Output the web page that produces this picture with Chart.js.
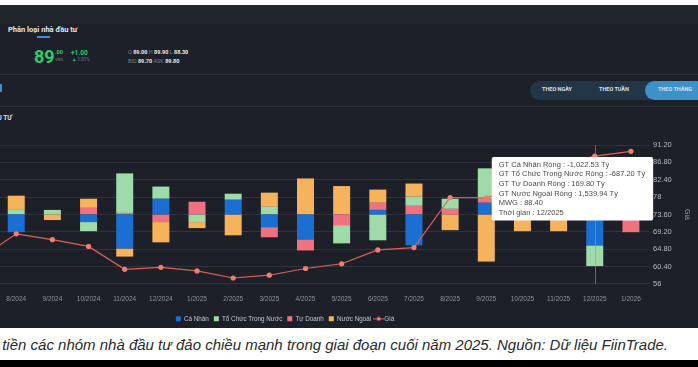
<!DOCTYPE html>
<html lang="vi">
<head>
<meta charset="utf-8">
<title>Phân loại nhà đầu tư</title>
<script src="https://cdn.jsdelivr.net/npm/chart.js@4.4.1/dist/chart.umd.min.js"></script>
<style>
html, body { margin: 0; padding: 0; }
body { position: relative; width: 698px; height: 367px; overflow: hidden; background: #000; font-family: Roboto, "Liberation Sans", sans-serif; }
.abs { position: absolute; white-space: nowrap; line-height: 1; }
.strip { left: 0; top: 0; width: 698px; height: 5px; background: #fff; }
.panel { left: 0; top: 5px; width: 698px; height: 323px; background: #1d2028; }
.band { left: 0; top: 5px; width: 698px; height: 19px; background: #22252c; }
.sep { left: 0; width: 698px; height: 1px; background: #2c3038; }
.tab { left: 8px; top: 26px; font-size: 7.5px; font-weight: 700; color: #e4e6ea; }
.tabline { left: 37px; top: 36px; width: 13px; height: 2px; background: #3d8fd6; }
.green { color: #2dcc70; }
.grey { color: #7c828b; }
.val { color: #e8eaee; font-weight: 700; }
.pills { left: 530px; top: 81px; width: 190px; height: 19px; border-radius: 10px; background: #233647; }
.pill-on { left: 645px; top: 81px; width: 70px; height: 19px; border-radius: 10px; background: #3c92c7; }
.btn { top: 87px; font-size: 5.5px; font-weight: 700; color: #d9e1ea; }
.chartbox { position: absolute; left: -128px; top: 110px; width: 826px; height: 222px; }
.caption { position: absolute; left: 0; top: 328px; width: 698px; height: 32px; background: #fff; z-index: 2; overflow: hidden; }
.caption span { position: absolute; right: 30px; top: 8px; white-space: nowrap; font-family: "Liberation Sans", Arial, sans-serif; font-style: italic; font-size: 15px; color: #2a2a2a; }
</style>
</head>
<body>
<div class="abs strip"></div>
<div class="abs panel"></div>
<div class="abs band"></div>
<div class="abs tab">Phân loại nhà đầu tư</div>
<div class="abs tabline"></div>
<div class="abs green" style="left:34px;top:48px;font-size:18px;font-weight:700;">89</div>
<div class="abs green" style="left:55px;top:50px;font-size:5.5px;font-weight:700;">.00</div>
<div class="abs grey" style="left:55px;top:58px;font-size:4px;">VND</div>
<div class="abs green" style="left:71px;top:50px;font-size:6.5px;font-weight:700;">+1.00</div>
<div class="abs" style="left:72px;top:58px;font-size:4.5px;"><span class="green">▲</span> <span class="grey">1.01%</span></div>
<div class="abs" style="left:128px;top:50px;font-size:5.5px;"><span class="grey">O</span> <span class="val">89.00</span> <span class="grey">H</span> <span class="val">89.90</span> <span class="grey">L</span> <span class="val">88.30</span></div>
<div class="abs" style="left:128px;top:59px;font-size:5.5px;"><span class="grey">BID</span> <span class="val">89.70</span> <span class="grey">ASK</span> <span class="val">89.80</span></div>
<div class="abs sep" style="top:74px;"></div>
<div class="abs" style="left:0;top:84px;width:2px;height:8px;background:#3d8fd6;"></div>
<div class="abs pills"></div>
<div class="abs pill-on"></div>
<div class="abs btn" style="left:542px;">THEO NGÀY</div>
<div class="abs btn" style="left:599px;">THEO TUẦN</div>
<div class="abs btn" style="left:658px;">THEO THÁNG</div>
<div class="abs sep" style="top:106px;"></div>
<div class="abs" style="right:686px;top:115px;font-size:6.5px;font-weight:700;color:#dfe2e7;">NHÀ ĐẦU TƯ</div>
<div class="chartbox"><canvas id="flowChart"></canvas></div>
<div class="caption"><span>Dòng tiền các nhóm nhà đầu tư đảo chiều mạnh trong giai đoạn cuối năm 2025. Nguồn: Dữ liệu FiinTrade.</span></div>
<script>
const months = ['7/2024', '8/2024', '9/2024', '10/2024', '11/2024', '12/2024', '1/2025', '2/2025', '3/2025', '4/2025', '5/2025', '6/2025', '7/2025', '8/2025', '9/2025', '10/2025', '11/2025', '12/2025', '1/2026']
// giá trị ròng, tỷ đồng
const caNhan = [null, -588, 0, -252, -1125, 520, 0, 487, -420, -823, 0, 151, -1024, 0, 386, 250, 400, -1022.53, 300]
const tuDoanh = [null, 0, 0, 218, 50, -252, 420, 0, -336, -370, -353, 235, 285, 185, 134, 0, 0, 169.8, -588]
const toChuc = [null, 151, 150, -302, 1310, 403, -252, 200, 252, 0, -605, -856, 302, 336, 1007, 300, 150, -687.2, 200]
const nuocNgoai = [null, 470, -185, 302, -270, -672, -200, -690, 470, 1192, 940, 437, 437, -520, -1561, -554, -554, 1539.94, 0]
const giaMWG = [62.5, 68.7, 67.2, 65.5, 59.7, 60.2, 59.3, 57.5, 58.2, 59.9, 61.1, 64.6, 65.2, 77.9, 77.8, 80.5, 86.0, 88.4, 89.6]
const giaTicks = [56, 60.4, 64.8, 69.2, 73.6, 78, 82.4, 86.8, 91.2]
const legendOrder = ['Cá Nhân', 'Tổ Chức Trong Nước', 'Tự Doanh', 'Nước Ngoài', 'Giá']
const activeMonth = '12/2025'

const fmt = (v) => Number(v).toLocaleString('en-US', { minimumFractionDigits: 2, maximumFractionDigits: 2 })
const fmtTick = (v) => {
	const s = Number(v).toFixed(2)
	return s.endsWith('.00') ? s.slice(0, -3) : s
}

// marker "—●—" cho mục Giá trong chú thích
const giaMarker = document.createElement('canvas')
giaMarker.width = 11
giaMarker.height = 5
const mk = giaMarker.getContext('2d')
mk.strokeStyle = '#e0625a'
mk.lineWidth = 1
mk.beginPath()
mk.moveTo(0, 2.5)
mk.lineTo(11, 2.5)
mk.stroke()
mk.fillStyle = '#f07b6e'
mk.beginPath()
mk.arc(5.5, 2.5, 2, 0, Math.PI * 2)
mk.fill()

Chart.Tooltip.positioners.besideBox = function (items) {
	if (!items.length) return false
	const el = items[0].element
	return { x: el.x - 101, y: el.y + 1 }
}

const crosshair = {
	id: 'crosshair',
	afterDatasetsDraw(chart) {
		const act = chart.tooltip.getActiveElements()
		if (!act.length) return
		const x = Math.round(act[0].element.x) + 0.5
		const { top, bottom } = chart.chartArea
		const c = chart.ctx
		c.save()
		c.strokeStyle = 'rgba(150,155,165,0.6)'
		c.lineWidth = 1
		c.beginPath()
		c.moveTo(x, top)
		c.lineTo(x, bottom)
		c.stroke()
		c.restore()
	},
}

const barStyle = { type: 'bar', yAxisID: 'y', order: 1, barPercentage: 0.47, categoryPercentage: 1, borderWidth: 0 }

const chart = new Chart(document.getElementById('flowChart'), {
	data: {
		labels: months,
		datasets: [
			{ ...barStyle, label: 'Cá Nhân', data: caNhan, backgroundColor: '#1b6fd2' },
			{ ...barStyle, label: 'Tự Doanh', data: tuDoanh, backgroundColor: '#f0717f' },
			{ ...barStyle, label: 'Tổ Chức Trong Nước', data: toChuc, backgroundColor: '#9edba9' },
			{ ...barStyle, label: 'Nước Ngoài', data: nuocNgoai, backgroundColor: '#f6b35c' },
			{
				type: 'line',
				label: 'Giá',
				data: giaMWG,
				yAxisID: 'y1',
				order: 0,
				borderColor: '#dc6257',
				borderWidth: 1.2,
				pointRadius: 2.6,
				pointBackgroundColor: '#f27c70',
				pointBorderWidth: 0,
				tension: 0,
			},
		],
	},
	options: {
		responsive: true,
		maintainAspectRatio: false,
		animation: false,
		events: [],
		layout: { padding: { left: 0, right: 0, top: 35, bottom: 0 } },
		scales: {
			x: {
				stacked: true,
				grid: { display: false, drawTicks: false },
				border: { display: false },
				ticks: { color: '#8d939c', font: { size: 6.5 }, padding: 11, maxRotation: 0, autoSkip: false },
				afterFit: (s) => { s.height -= 3 },
			},
			y: {
				stacked: true,
				min: -2300,
				max: 2300,
				ticks: { display: false },
				grid: { display: false, drawTicks: false },
				border: { display: false },
				afterFit: (s) => { s.width = 90 },
			},
			y1: {
				position: 'right',
				min: 56,
				max: 91.2,
				afterBuildTicks: (s) => { s.ticks = giaTicks.map((v) => ({ value: v })) },
				ticks: { color: '#b3b8c0', font: { size: 7.5 }, padding: 4, callback: (v) => fmtTick(v) },
				grid: { color: 'rgba(255,255,255,0.09)', drawTicks: false },
				border: { display: false },
				title: { display: true, text: 'Giá', color: '#9aa0a8', font: { size: 7 }, padding: { top: 7, bottom: 0 } },
				afterFit: (s) => { s.width = 49 },
			},
		},
		plugins: {
			legend: {
				position: 'bottom',
				labels: {
					color: '#c3c7ce',
					font: { size: 6.3 },
					boxWidth: 5,
					boxHeight: 5,
					padding: 5,
					usePointStyle: true,
					sort: (a, b) => legendOrder.indexOf(a.text) - legendOrder.indexOf(b.text),
					generateLabels: (ch) => {
						const items = Chart.defaults.plugins.legend.labels.generateLabels(ch)
						return items.map((it) => {
							const ds = ch.data.datasets[it.datasetIndex]
							it.pointStyle = ds.type === 'line' ? giaMarker : 'rect'
							it.lineWidth = 0
							return it
						})
					},
				},
			},
			tooltip: {
				position: 'besideBox',
				xAlign: 'left',
				yAlign: 'top',
				caretSize: 0,
				caretPadding: 0,
				cornerRadius: 2,
				backgroundColor: '#ffffff',
				bodyColor: '#4a4a4a',
				bodyFont: { size: 7.5, lineHeight: 1.2 },
				bodySpacing: 0.7,
				padding: { left: 7, right: 8, top: 3, bottom: 3 },
				displayColors: false,
				callbacks: {
					title: () => '',
					label: (item) => {
						const i = item.dataIndex
						return [
							'GT Cá Nhân Ròng : ' + fmt(caNhan[i]) + ' Tỷ',
							'GT Tổ Chức Trong Nước Ròng : ' + fmt(toChuc[i]) + ' Tỷ',
							'GT Tự Doanh Ròng : ' + fmt(tuDoanh[i]) + ' Tỷ',
							'GT Nước Ngoài Ròng : ' + fmt(nuocNgoai[i]) + ' Tỷ',
							'MWG : ' + fmt(giaMWG[i]),
							'Thời gian : ' + months[i],
						]
					},
				},
			},
		},
	},
	plugins: [crosshair],
})

chart.tooltip.setActiveElements([{ datasetIndex: 4, index: months.indexOf(activeMonth) }], { x: 0, y: 0 })
chart.update()
</script>
</body>
</html>
